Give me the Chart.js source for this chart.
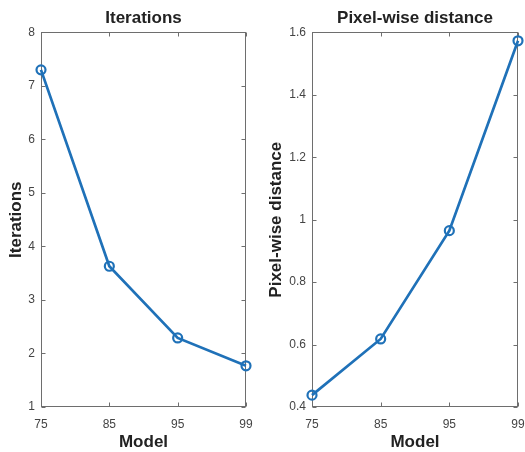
<!DOCTYPE html>
<html>
<head>
<meta charset="utf-8">
<script src="https://cdn.jsdelivr.net/npm/chart.js@4"></script>
<style>
  body { margin: 0; background: #fff; }
  #wrap { position: relative; width: 525px; height: 452px; }
  canvas { position: absolute; top: 0; }
  #left { left: 0; }
  #right { left: 262px; }
</style>
</head>
<body>
<div id="wrap">
  <canvas id="left" width="262" height="452"></canvas>
  <canvas id="right" width="263" height="452"></canvas>
</div>
<script>
// ======== Data ========
const models = ['75', '85', '95', '99'];
const iterations = [7.3, 3.63, 2.29, 1.77];
const pixelDistance = [0.438, 0.618, 0.965, 1.573];
const iterTicks = [1, 2, 3, 4, 5, 6, 7, 8];
const distTicks = [0.4, 0.6, 0.8, 1, 1.2, 1.4, 1.6];

const BLUE = '#1f71b8';
const FONT = "'Liberation Sans', Arial, sans-serif";

// box + inward ticks, matlab style
const boxPlugin = {
  id: 'box',
  beforeDatasetsDraw(chart) {
    const { ctx, chartArea: a, scales } = chart;
    const L = Math.round(a.left) + 0.5, R = Math.round(a.right) - 0.5;
    const T = Math.round(a.top) + 0.5, B = Math.round(a.bottom) - 0.5;
    const len = 4;
    ctx.save();
    ctx.strokeStyle = '#6e6e6e';
    ctx.lineWidth = 1;
    ctx.strokeRect(L, T, R - L, B - T);
    ctx.beginPath();
    scales.x.ticks.forEach((t, i) => {
      const x = Math.round(scales.x.getPixelForTick(i)) + 0.5;
      ctx.moveTo(x, B); ctx.lineTo(x, B - len);
      ctx.moveTo(x, T); ctx.lineTo(x, T + len);
    });
    scales.y.ticks.forEach(t => {
      const y = Math.round(scales.y.getPixelForValue(t.value)) + 0.5;
      ctx.moveTo(L, y); ctx.lineTo(L + len, y);
      ctx.moveTo(R, y); ctx.lineTo(R - len, y);
    });
    ctx.stroke();
    ctx.restore();
  }
};

function makeChart(id, title, values, ticks, yMin, yMax, yWidth, padRight, yTitlePad) {
  return new Chart(document.getElementById(id), {
    type: 'line',
    data: {
      labels: models,
      datasets: [{
        data: values,
        borderColor: BLUE,
        borderWidth: 2.7,
        pointStyle: 'circle',
        pointRadius: 4.5,
        pointBorderWidth: 2.2,
        pointBorderColor: BLUE,
        pointBackgroundColor: 'rgba(0,0,0,0)',
        tension: 0,
        clip: false
      }]
    },
    options: {
      responsive: false,
      animation: false,
      layout: { padding: { left: 0, right: padRight, top: 0, bottom: 0 } },
      plugins: {
        legend: { display: false },
        tooltip: { enabled: false },
        title: {
          display: true,
          text: title,
          fullSize: false,
          color: '#222',
          font: { family: FONT, size: 17, weight: 'bold', lineHeight: 1.2 },
          padding: { top: 8, bottom: 4 }
        }
      },
      scales: {
        x: {
          type: 'category',
          offset: false,
          grid: { display: false, drawTicks: false },
          border: { display: false },
          ticks: { color: '#444', font: { family: FONT, size: 12 }, padding: 10, maxRotation: 0, autoSkip: false },
          title: {
            display: true, text: 'Model', color: '#222',
            font: { family: FONT, size: 17, weight: 'bold', lineHeight: 1.1 },
            padding: { top: 0, bottom: 0 }
          },
          afterFit: s => { s.height = 45; s.paddingLeft = 0; s.paddingRight = 0; }
        },
        y: {
          min: yMin, max: yMax,
          grid: { display: false, drawTicks: false },
          border: { display: false },
          afterBuildTicks: s => { s.ticks = ticks.map(v => ({ value: v })); },
          ticks: { color: '#444', font: { family: FONT, size: 12 }, padding: 6, callback: v => String(v) },
          title: {
            display: true, text: title, color: '#222',
            font: { family: FONT, size: 17, weight: 'bold', lineHeight: 1.1 },
            padding: { top: yTitlePad, bottom: 0 }
          },
          afterFit: s => { s.width = yWidth; }
        }
      }
    },
    plugins: [boxPlugin]
  });
}

makeChart('left', 'Iterations', iterations, iterTicks, 1, 8, 41, 16, 7);
makeChart('right', 'Pixel-wise distance', pixelDistance, distTicks, 0.4, 1.6, 50, 7, 5);
</script>
</body>
</html>
